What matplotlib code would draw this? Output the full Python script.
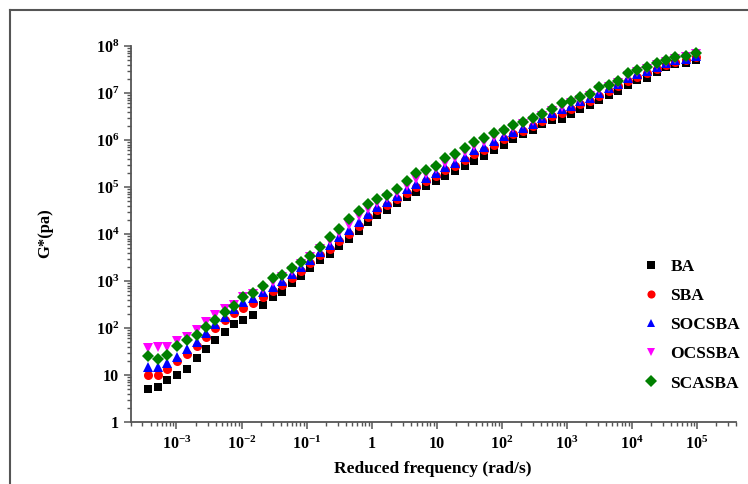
import numpy as np
import matplotlib
matplotlib.use("Agg")
import matplotlib.pyplot as plt
from matplotlib.lines import Line2D
from matplotlib.ticker import FixedLocator, LogLocator, NullFormatter

plt.rcParams['font.family'] = ['Liberation Serif', 'DejaVu Serif']
plt.rcParams['mathtext.fontset'] = 'custom'
plt.rcParams['mathtext.rm'] = 'Liberation Serif:bold'
plt.rcParams['mathtext.bf'] = 'Liberation Serif:bold'
plt.rcParams['mathtext.it'] = 'Liberation Serif:bold'

# log10 of reduced frequency (rad/s)
freq_log = [-3.44, -3.28, -3.14, -2.99, -2.84, -2.69, -2.55, -2.41, -2.26, -2.11,
            -1.97, -1.82, -1.67, -1.52, -1.38, -1.23, -1.08, -0.94, -0.79, -0.64,
            -0.50, -0.35, -0.20, -0.05, 0.09, 0.24, 0.39, 0.54, 0.69, 0.84,
            0.99, 1.13, 1.28, 1.43, 1.58, 1.73, 1.88, 2.03, 2.18, 2.33,
            2.48, 2.62, 2.77, 2.92, 3.06, 3.21, 3.36, 3.50, 3.65, 3.79,
            3.94, 4.08, 4.23, 4.38, 4.53, 4.67, 4.83, 4.98]

# log10 of G* (Pa)
ba_log = [0.70, 0.75, 0.89, 1.00, 1.13, 1.36, 1.55, 1.74, 1.92, 2.08,
          2.18, 2.28, 2.49, 2.67, 2.77, 2.96, 3.11, 3.27, 3.45, 3.57,
          3.74, 3.89, 4.06, 4.25, 4.40, 4.52, 4.65, 4.78, 4.90, 5.02,
          5.13, 5.24, 5.33, 5.45, 5.56, 5.66, 5.78, 5.90, 6.02, 6.12,
          6.21, 6.34, 6.43, 6.45, 6.55, 6.67, 6.74, 6.85, 6.96, 7.05,
          7.17, 7.28, 7.31, 7.45, 7.55, 7.62, 7.64, 7.70]
sba_log = [1.00, 1.00, 1.12, 1.30, 1.45, 1.62, 1.80, 1.99, 2.16, 2.31,
           2.42, 2.53, 2.67, 2.79, 2.91, 3.06, 3.22, 3.38, 3.55, 3.68,
           3.86, 4.01, 4.18, 4.36, 4.51, 4.62, 4.74, 4.88, 5.00, 5.12,
           5.23, 5.36, 5.45, 5.57, 5.70, 5.78, 5.90, 6.02, 6.12, 6.20,
           6.29, 6.40, 6.52, 6.58, 6.67, 6.76, 6.84, 6.94, 7.05, 7.14,
           7.25, 7.35, 7.42, 7.52, 7.60, 7.66, 7.70, 7.76]
socsba_log = [1.18, 1.18, 1.25, 1.39, 1.56, 1.71, 1.90, 2.09, 2.24, 2.40,
              2.55, 2.64, 2.76, 2.88, 3.00, 3.14, 3.30, 3.45, 3.62, 3.76,
              3.93, 4.08, 4.25, 4.43, 4.58, 4.68, 4.80, 4.95, 5.07, 5.19,
              5.30, 5.42, 5.52, 5.64, 5.78, 5.86, 5.97, 6.08, 6.18, 6.26,
              6.35, 6.46, 6.58, 6.65, 6.73, 6.82, 6.90, 7.01, 7.10, 7.19,
              7.31, 7.40, 7.47, 7.56, 7.64, 7.70, 7.73, 7.79]
ocssba_log = [1.57, 1.60, 1.60, 1.73, 1.80, 1.96, 2.13, 2.28, 2.40, 2.50,
              2.65, 2.72, 2.84, 2.97, 3.08, 3.22, 3.37, 3.52, 3.68, 3.86,
              4.02, 4.20, 4.38, 4.54, 4.66, 4.76, 4.88, 5.03, 5.18, 5.28,
              5.38, 5.52, 5.62, 5.74, 5.87, 5.96, 6.06, 6.15, 6.25, 6.33,
              6.41, 6.51, 6.62, 6.71, 6.78, 6.86, 6.93, 7.06, 7.13, 7.22,
              7.36, 7.44, 7.51, 7.59, 7.66, 7.72, 7.76, 7.82]
scasba_log = [1.40, 1.33, 1.43, 1.62, 1.74, 1.85, 2.03, 2.17, 2.35, 2.47,
              2.67, 2.75, 2.89, 3.06, 3.13, 3.27, 3.41, 3.54, 3.72, 3.94,
              4.10, 4.31, 4.49, 4.63, 4.74, 4.83, 4.95, 5.13, 5.29, 5.36,
              5.45, 5.61, 5.70, 5.82, 5.96, 6.04, 6.14, 6.21, 6.32, 6.39,
              6.46, 6.55, 6.67, 6.78, 6.83, 6.91, 6.97, 7.12, 7.18, 7.26,
              7.42, 7.49, 7.56, 7.63, 7.70, 7.76, 7.79, 7.86]

series_names = ['BA', 'SBA', 'SOCSBA', 'OCSSBA', 'SCASBA']
series_logs = [ba_log, sba_log, socsba_log, ocssba_log, scasba_log]
series_colors = ['black', '#ff0000', '#0000ff', '#ff00ff', '#008000']
series_markers = ['s', 'o', '^', 'v', 'D']
series_sizes = [6.3, 6.5, 7, 7, 6.5]

x_tick_vals = [1e-3, 1e-2, 1e-1, 1, 10, 1e2, 1e3, 1e4, 1e5]
x_tick_labels = [r'$10^{-3}$', r'$10^{-2}$', r'$10^{-1}$', '1', '10',
                 r'$10^{2}$', r'$10^{3}$', r'$10^{4}$', r'$10^{5}$']
y_tick_vals = [1, 10, 1e2, 1e3, 1e4, 1e5, 1e6, 1e7, 1e8]
y_tick_labels = ['1', '10', r'$10^{2}$', r'$10^{3}$', r'$10^{4}$',
                 r'$10^{5}$', r'$10^{6}$', r'$10^{7}$', r'$10^{8}$']

W, H = 748, 484
fig = plt.figure(figsize=(W / 100, H / 100), dpi=100)
ax = fig.add_axes([131 / W, 1 - 422 / H, (736 - 131) / W, (422 - 46) / H])

freq = 10.0 ** np.array(freq_log)
for name, lg, c, m, s in zip(series_names, series_logs, series_colors,
                             series_markers, series_sizes):
    ax.plot(freq, 10.0 ** np.array(lg), linestyle='none', marker=m,
            markersize=s, color=c, markeredgewidth=0, label=name)

ax.set_xscale('log')
ax.set_yscale('log')
ax.set_xlim(2e-4, 4e5)
ax.set_ylim(1, 1e8)

ax.xaxis.set_major_locator(FixedLocator(x_tick_vals))
ax.set_xticklabels(x_tick_labels)
ax.yaxis.set_major_locator(FixedLocator(y_tick_vals))
ax.set_yticklabels(y_tick_labels)
ax.xaxis.set_minor_locator(LogLocator(base=10, subs=np.arange(2, 10), numticks=30))
ax.yaxis.set_minor_locator(LogLocator(base=10, subs=np.arange(2, 10), numticks=30))
ax.xaxis.set_minor_formatter(NullFormatter())
ax.yaxis.set_minor_formatter(NullFormatter())

for sp in ['top', 'right']:
    ax.spines[sp].set_visible(False)
for sp in ['left', 'bottom']:
    ax.spines[sp].set_color('#555555')
    ax.spines[sp].set_linewidth(1.3)

ax.tick_params(which='major', direction='out', length=5, width=1.1,
               color='#555555', labelsize=11.5)
ax.tick_params(which='minor', direction='out', length=3, width=1.0,
               color='#555555')
ax.tick_params(axis='x', which='major', pad=5)
for lab in ax.get_xticklabels() + ax.get_yticklabels():
    lab.set_fontweight('bold')

ax.set_xlabel('Reduced frequency (rad/s)', fontsize=12.5, fontweight='bold')
ax.xaxis.set_label_coords((433 - 131) / 605, -(469 - 422) / 376)
ax.xaxis.label.set_va('center')
ax.set_ylabel('G*(pa)', fontsize=12, fontweight='bold')
ax.yaxis.set_label_coords((45 - 131) / 605, (422 - 233) / 376)
ax.yaxis.label.set_va('center')

leg = ax.legend(loc='upper left', bbox_to_anchor=(634 / W, 1 - 250 / H),
                bbox_transform=fig.transFigure, frameon=False,
                prop={'weight': 'bold', 'size': 12.5}, handlelength=1.0,
                handletextpad=0.6, labelspacing=0.75, borderpad=0.0,
                markerscale=0.9)

fig.add_artist(Line2D([10 / W, 10 / W], [0, 1 - 10 / H], color='#555555', lw=1.5))
fig.add_artist(Line2D([10 / W, 1], [1 - 10 / H, 1 - 10 / H], color='#555555', lw=1.5))

fig.savefig('out.png', dpi=100)
